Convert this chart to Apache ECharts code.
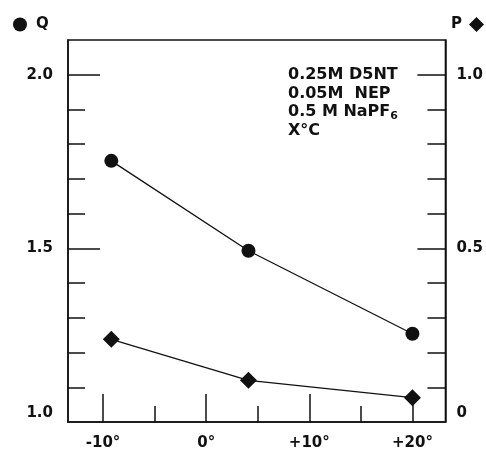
<!DOCTYPE html>
<html>
<head>
<meta charset="utf-8">
<script src="https://cdn.jsdelivr.net/npm/echarts@6/dist/echarts.min.js"></script>
<style>
html, body { margin: 0; padding: 0; background: #fff; }
#chart { width: 486px; height: 454px; }
</style>
</head>
<body>
<div id="chart"></div>
<script>
// temperature (deg C)
var temps = [-9.2, 4.1, 20];
// Q (left axis) and P (right axis)
var qValues = [1.752, 1.493, 1.254];
var pValues = [0.238, 0.120, 0.070];

var xMajor = [-10, 0, 10, 20];
var xMinor = [-5, 5, 15];
var xLabels = ['-10°', '0°', '+10°', '+20°'];
var qMajor = [1.0, 1.5, 2.0];
var qMinor = [1.1, 1.2, 1.3, 1.4, 1.6, 1.7, 1.8, 1.9];
var pMajor = [0, 0.5, 1.0];
var pMinor = [0.1, 0.2, 0.3, 0.4, 0.6, 0.7, 0.8, 0.9];

var font = 'DejaVu Sans';
var ink = '#111';

var chart = echarts.init(document.getElementById('chart'));

var pairs = function(xs, ys){
	var out = [];
	for (var i = 0; i < xs.length; i++) out.push([xs[i], ys[i]]);
	return out;
};

var lineStyle = { color: ink, width: 1.5 };
var labelFont = { color: ink, fontSize: 15, fontFamily: font, fontWeight: 'bold' };

var option = {
	animation: false,
	textStyle: { fontFamily: font },
	grid: { left: 68, right: 40, top: 40, bottom: 32, show: true, borderColor: ink, borderWidth: 1.5 },
	legend: [
		{
			left: 8, top: 12, itemWidth: 14, itemHeight: 14, itemGap: 0,
			data: [{ name: 'Q', icon: 'circle' }],
			textStyle: { fontFamily: font, fontSize: 15, fontWeight: 'bold', color: ink, padding: [0, 0, 0, 4] }
		},
		{
			right: -3, top: 12, itemWidth: 15, itemHeight: 15, align: 'right',
			data: [{ name: 'P', icon: 'diamond' }],
			textStyle: { fontFamily: font, fontSize: 15, fontWeight: 'bold', color: ink, padding: [0, 2, 0, 0] }
		}
	],
	xAxis: [
		{
			type: 'value', min: -13.4, max: 23.2, position: 'bottom',
			splitLine: { show: false },
			axisLine: { onZero: false, lineStyle: lineStyle },
			axisTick: { inside: true, length: 28, customValues: xMajor, lineStyle: lineStyle },
			axisLabel: Object.assign({
				customValues: xMajor, margin: 14,
				formatter: function(v){ return xLabels[xMajor.indexOf(Math.round(v))]; }
			}, labelFont)
		},
		{
			type: 'value', min: -13.4, max: 23.2, position: 'bottom',
			splitLine: { show: false },
			axisLine: { show: false, onZero: false },
			axisTick: { inside: true, length: 16, customValues: xMinor, lineStyle: lineStyle },
			axisLabel: { show: false }
		}
	],
	yAxis: [
		{
			type: 'value', min: 1.0, max: 2.1, position: 'left',
			splitLine: { show: false },
			axisLine: { show: true, onZero: false, lineStyle: lineStyle },
			axisTick: { inside: true, length: 32, customValues: [1.5, 2.0], lineStyle: lineStyle },
			axisLabel: Object.assign({
				customValues: qMajor, margin: 15,
				formatter: function(v){
					var s = v.toFixed(1);
					return v < 1.05 ? '{lo|' + s + '}' : s;
				},
				rich: { lo: Object.assign({ padding: [0, 0, 18, 0] }, labelFont) }
			}, labelFont)
		},
		{
			type: 'value', min: 1.0, max: 2.1, position: 'left',
			splitLine: { show: false },
			axisLine: { show: false, onZero: false },
			axisTick: { inside: true, length: 17, customValues: qMinor, lineStyle: lineStyle },
			axisLabel: { show: false }
		},
		{
			type: 'value', min: 0, max: 1.1, position: 'right',
			splitLine: { show: false },
			axisLine: { show: true, onZero: false, lineStyle: lineStyle },
			axisTick: { inside: true, length: 28, customValues: [0.5, 1.0], lineStyle: lineStyle },
			axisLabel: Object.assign({
				customValues: pMajor, margin: 11,
				formatter: function(v){
					if (v < 0.05) return '{lo|0}';
					return v.toFixed(1);
				},
				rich: { lo: Object.assign({ padding: [0, 0, 18, 0] }, labelFont) }
			}, labelFont)
		},
		{
			type: 'value', min: 0, max: 1.1, position: 'right',
			splitLine: { show: false },
			axisLine: { show: false, onZero: false },
			axisTick: { inside: true, length: 18, customValues: pMinor, lineStyle: lineStyle },
			axisLabel: { show: false }
		}
	],
	series: [
		{
			name: 'Q', type: 'line', xAxisIndex: 0, yAxisIndex: 0,
			data: pairs(temps, qValues),
			symbol: 'circle', symbolSize: 14,
			itemStyle: { color: ink },
			lineStyle: { color: ink, width: 1.3 }
		},
		{
			name: 'P', type: 'line', xAxisIndex: 0, yAxisIndex: 2,
			data: pairs(temps, pValues),
			symbol: 'diamond', symbolSize: 17,
			itemStyle: { color: ink },
			lineStyle: { color: ink, width: 1.3 }
		}
	],
	graphic: [
		{
			type: 'text', left: 288, top: 66,
			style: {
				text: '0.25M D5NT\n0.05M  NEP\n0.5 M NaPF{sub|6}\nX°C',
				fontFamily: font, fontSize: 16, fontWeight: 'bold', lineHeight: 18.5, fill: ink,
				rich: { sub: { fontFamily: font, fontSize: 11, fontWeight: 'bold', fill: ink, verticalAlign: 'bottom', padding: [8, 0, 0, 0] } }
			}
		}
	]
};

chart.setOption(option);
</script>
</body>
</html>
